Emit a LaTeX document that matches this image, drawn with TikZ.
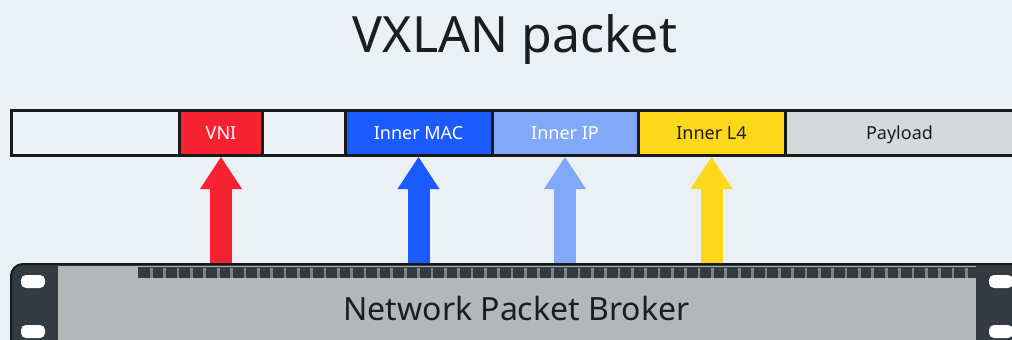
\documentclass[tikz,border=0pt]{standalone}
\usepackage{fontspec}
\setmainfont{Noto Sans}
\usetikzlibrary{arrows.meta}
\definecolor{bg}{HTML}{EBF0F4}
\definecolor{ink}{HTML}{1B1E21}
\definecolor{edge}{HTML}{17191B}
\definecolor{vnired}{HTML}{F72231}
\definecolor{macblue}{HTML}{1A5AFF}
\definecolor{ipblue}{HTML}{82A8F9}
\definecolor{l4yellow}{HTML}{FDD719}
\definecolor{payloadgray}{HTML}{D6D9DC}
\definecolor{rack}{HTML}{343A41}
\definecolor{panel}{HTML}{B4B7BA}
\definecolor{portgap}{HTML}{80858A}
\tikzset{seg/.style={draw=edge, line width=3pt, minimum height=45pt, inner sep=0pt,
    text height=13pt, text depth=1pt, font=\fontsize{18}{20}\selectfont},
  uparrow/.style={line width=22pt, -{Triangle[width=42pt,length=32pt,line width=0pt]}}}

\begin{document}
\begin{tikzpicture}[x=1pt,y=-1pt]
	% Canvas
	\fill[bg] (0,0) rectangle (1012,340);
	\useasboundingbox (0,0) rectangle (1012,340);
	
	\node[font=\fontsize{50}{60}\selectfont, text=ink, anchor=base] (title) at (515,52) {VXLAN packet};
	
	% Packet fields
	\foreach \name/\xa/\xb/\col/\tcol/\txt in {hdr/11.5/179.5/bg/ink/{},
		vni/179.5/262.5/vnired/white/VNI, pad/262.5/345/bg/ink/{},
		mac/345/492/macblue/white/Inner MAC, ip/492/638/ipblue/white/Inner IP,
		l4/638/785/l4yellow/ink/Inner L4, payload/785/1014/payloadgray/ink/Payload}
	\node[seg, fill=\col, text=\tcol, minimum width={(\xb-\xa)*1pt}] (\name) at ({(\xa+\xb)/2},133) {\txt};
	
	% Broker chassis
	\node[draw=edge, line width=2pt, fill=rack, rounded corners=12pt, minimum width=1019pt,
		minimum height=106pt] (rack) at (520.5,317) {};
	\fill[panel] (58,266) rectangle (976,350);
	\fill[rack] (138,266.5) rectangle (976,278);
	\foreach \i in {0,...,61}
		\fill[portgap] ({150+\i*13.36},267.5) rectangle ++(2.7,10.5);
	\foreach \x in {21,989}
		\foreach \y in {275,325}
			\fill[white, rounded corners=5pt] (\x,\y) rectangle ++(24,13);
	
	\node[font=\fontsize{32}{36}\selectfont, text=ink, anchor=base] (broker) at (516.5,320) {Network Packet Broker};
	
	% Arrows up to the fields
	\foreach \seg/\col in {vni/vnired, mac/macblue, ip/ipblue, l4/l4yellow}
		\draw[uparrow, \col] (\seg.south |- rack.north) -- (\seg.south);
\end{tikzpicture}
\end{document}
